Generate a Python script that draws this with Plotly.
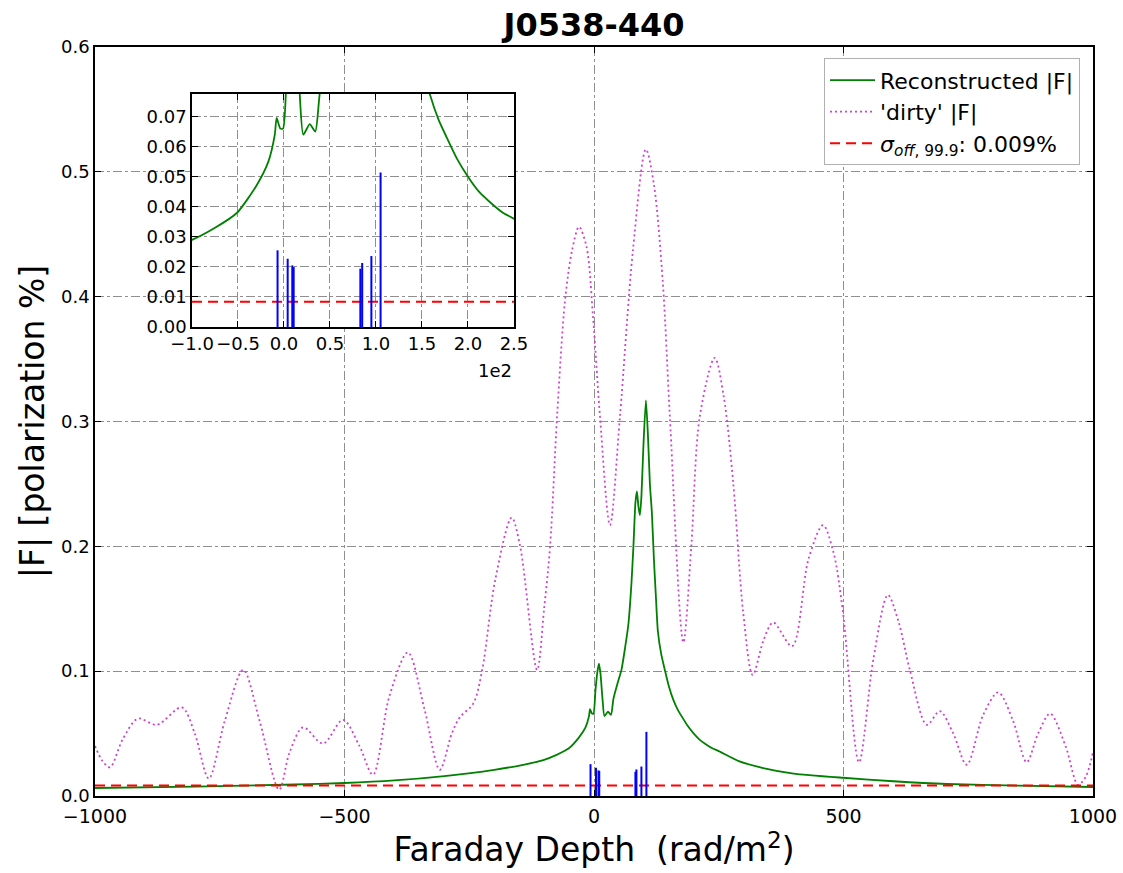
import plotly.graph_objects as go

# ---------------- data ----------------
dirty_x = [-1000, -985, -970, -945, -914, -876, -826, -800, -772, -740, -703, -670, -631, -610,
           -583, -543, -503, -470, -443, -410, -373, -340, -309, -285, -269, -242, -224, -198,
           -165, -148, -114, -100, -88, -74, -58, -44, -30, -15, -2, 12, 32, 52, 78, 104, 120,
           138, 152, 179, 195, 212, 242, 260, 279, 299, 318, 340, 359, 397, 430, 459, 480, 499,
           531, 560, 589, 610, 633, 667, 693, 720, 747, 780, 810, 840, 867, 890, 914, 945, 970,
           985, 1000]
dirty_y = [0.040, 0.028, 0.023, 0.045, 0.062, 0.057, 0.071, 0.050, 0.014, 0.060, 0.101, 0.060,
           0.005, 0.035, 0.055, 0.042, 0.061, 0.040, 0.017, 0.080, 0.115, 0.070, 0.021, 0.050,
           0.063, 0.074, 0.101, 0.173, 0.223, 0.200, 0.101, 0.150, 0.200, 0.304, 0.397, 0.437,
           0.456, 0.440, 0.384, 0.304, 0.217, 0.304, 0.437, 0.518, 0.490, 0.411, 0.304, 0.123,
           0.200, 0.304, 0.351, 0.320, 0.251, 0.147, 0.097, 0.125, 0.139, 0.120, 0.190, 0.217,
           0.195, 0.147, 0.027, 0.110, 0.161, 0.140, 0.101, 0.057, 0.068, 0.050, 0.025, 0.065,
           0.083, 0.060, 0.027, 0.050, 0.066, 0.040, 0.009, 0.015, 0.035]

recon_x = [-1000, -800, -600, -500, -400, -300, -200, -142, -100, -75, -51, -30, -17, -10, -8,
           -4, -1, 3, 7, 10, 13, 17, 21, 28, 34, 39, 47, 55, 62, 69, 75, 79, 83, 86, 89, 92, 95,
           99, 104, 108, 112, 116, 120, 124, 128, 135, 142, 150, 159, 168, 177, 188, 200, 212,
           224, 238, 250, 290, 339, 400, 499, 600, 707, 850, 1000]
recon_y = [0.0064, 0.0075, 0.0092, 0.0104, 0.0125, 0.016, 0.021, 0.025, 0.029, 0.033, 0.038,
           0.047, 0.055, 0.064, 0.0696, 0.066, 0.066, 0.085, 0.100, 0.106, 0.098, 0.078, 0.064,
           0.0675, 0.065, 0.078, 0.090, 0.101, 0.118, 0.138, 0.170, 0.200, 0.235, 0.244, 0.232,
           0.225, 0.240, 0.280, 0.317, 0.290, 0.250, 0.227, 0.190, 0.160, 0.132, 0.113, 0.101,
           0.088, 0.077, 0.069, 0.063, 0.056, 0.050, 0.045, 0.0415, 0.038, 0.036, 0.028, 0.0224,
           0.018, 0.0146, 0.0118, 0.0096, 0.0083, 0.0072]

comp_x = [-7, 4, 9, 10.5, 83, 85, 95, 105]
comp_y = [0.0255, 0.0227, 0.0205, 0.020, 0.0194, 0.0213, 0.0236, 0.0514]

sigma_level = 0.0084

main_xticks = [-1000, -500, 0, 500, 1000]
main_xticktext = ["\u22121000", "\u2212500", "0", "500", "1000"]
main_yticks = [0.0, 0.1, 0.2, 0.3, 0.4, 0.5, 0.6]
inset_xticks = [-100, -50, 0, 50, 100, 150, 200, 250]
inset_xticktext = ["\u22121.0", "\u22120.5", "0.0", "0.5", "1.0", "1.5", "2.0", "2.5"]
inset_yticks = [0.00, 0.01, 0.02, 0.03, 0.04, 0.05, 0.06, 0.07]

# ---------------- styling ----------------
FONT = "DejaVu Sans"
GREEN = "#008000"
MAGENTA = "#cc44cc"
RED = "#ff0000"
BLUE = "#0000ff"

# components as vertical stems built from data
stem_x, stem_y = [], []
for cx, cy in zip(comp_x, comp_y):
    stem_x += [cx, cx, None]
    stem_y += [0, cy, None]

fig = go.Figure()

# main axes traces
fig.add_trace(go.Scatter(x=recon_x, y=recon_y, mode="lines", name="Reconstructed |F|",
                         line=dict(color=GREEN, width=1.8, shape="spline", smoothing=0.6),
                         xaxis="x", yaxis="y"))
fig.add_trace(go.Scatter(x=dirty_x, y=dirty_y, mode="lines", name="'dirty' |F|",
                         line=dict(color=MAGENTA, width=1.8, dash="2px,3px", shape="spline", smoothing=0.9),
                         xaxis="x", yaxis="y"))
fig.add_trace(go.Scatter(x=[-1000, 1000], y=[sigma_level, sigma_level], mode="lines",
                         name="<i>\u03c3</i><sub><i>off</i>, 99.9</sub>: 0.009%",
                         line=dict(color=RED, width=2, dash="10px,6px"),
                         xaxis="x", yaxis="y"))
fig.add_trace(go.Scatter(x=stem_x, y=stem_y, mode="lines", showlegend=False,
                         line=dict(color=BLUE, width=2), xaxis="x", yaxis="y"))

# inset traces
fig.add_trace(go.Scatter(x=recon_x, y=recon_y, mode="lines", showlegend=False,
                         line=dict(color=GREEN, width=1.8, shape="spline", smoothing=0.6),
                         xaxis="x2", yaxis="y2"))
fig.add_trace(go.Scatter(x=[-100, 250], y=[sigma_level, sigma_level], mode="lines", showlegend=False,
                         line=dict(color=RED, width=2, dash="10px,6px"),
                         xaxis="x2", yaxis="y2"))
fig.add_trace(go.Scatter(x=stem_x, y=stem_y, mode="lines", showlegend=False,
                         line=dict(color=BLUE, width=2), xaxis="x2", yaxis="y2"))

def axis_style(size):
    return dict(showline=True, linecolor="black", linewidth=1.5, mirror="ticks",
                ticks="inside", ticklen=6, tickcolor="black", tickwidth=1,
                showgrid=True, gridcolor="#8f8f8f", griddash="dashdot", gridwidth=1,
                zeroline=False, automargin=False, tickangle=0,
                tickfont=dict(family=FONT, size=size, color="black"))

fig.update_layout(
    width=1123, height=873,
    margin=dict(l=95, r=30, t=47, b=77, autoexpand=False),
    paper_bgcolor="white", plot_bgcolor="white",
    font=dict(family=FONT, color="black"),
    title=dict(text="<b>J0538-440</b>", x=0.5, xanchor="center", xref="paper",
               y=1 - 25 / 873, yanchor="middle",
               font=dict(family=FONT, size=32, color="black")),
    xaxis=dict(range=[-1000, 1000], domain=[0, 1], tickvals=main_xticks, ticktext=main_xticktext,
               title=dict(text="Faraday Depth  (rad/m<sup>2</sup>)", font=dict(family=FONT, size=33),
                          standoff=8),
               anchor="y", ticklabelstandoff=2, **axis_style(19)),
    yaxis=dict(range=[0, 0.6], domain=[0, 1], tickvals=main_yticks, tickformat=".1f",
               title=dict(text="|F| [polarization %]", font=dict(family=FONT, size=33), standoff=6),
               anchor="x", **axis_style(18)),
    xaxis2=dict(range=[-100, 250], domain=[0.0972, 0.4198], tickvals=inset_xticks,
                ticktext=inset_xticktext, anchor="y2", **axis_style(18)),
    yaxis2=dict(range=[0, 0.0775], domain=[0.6262, 0.9372], tickvals=inset_yticks,
                tickformat=".2f", anchor="x2", **axis_style(18)),
    legend=dict(x=0.987, y=0.985, xanchor="right", yanchor="top",
                bordercolor="#b0b0b0", borderwidth=1, bgcolor="white",
                font=dict(family=FONT, size=22, color="black"),
                itemwidth=45, tracegroupgap=4),
    annotations=[dict(text="1e2", x=0.4198, y=0.6262, xref="paper", yref="paper",
                      xanchor="right", yanchor="top", yshift=-31, showarrow=False,
                      font=dict(family=FONT, size=18, color="black"))],
)

fig.write_html("out.html")
